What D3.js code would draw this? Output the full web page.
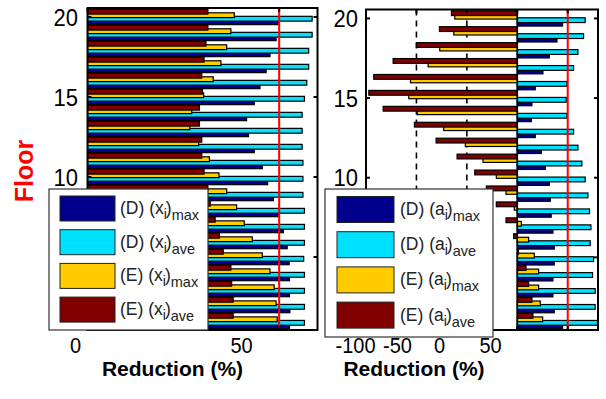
<!DOCTYPE html>
<html>
<head>
<meta charset="utf-8">
<script src="https://cdn.jsdelivr.net/npm/d3@7/dist/d3.min.js"></script>
<style>
  body { margin: 0; background: #fff; }
  svg { display: block; }
  text { font-family: "Liberation Sans", Arial, sans-serif; }
</style>
</head>
<body>
<svg id="chart" width="606" height="399"></svg>
<script>
// Floors 1..20 (bottom to top)
const floors = d3.range(1, 21);

// Displacement reduction (%) per floor
const dxMax = [52.7, 52.8, 52.7, 52.7, 52.6, 52.1, 51.1, 50.0, 48.5, 47.0, 45.6, 43.5, 42.0, 41.5, 43.5, 45.0, 46.6, 47.6, 49.2, 49.8];
const dxAve = [56.6, 56.6, 56.6, 56.6, 56.4, 56.6, 56.6, 56.6, 56.2, 56.2, 56.2, 56.0, 56.0, 56.0, 56.6, 57.2, 57.7, 57.7, 58.6, 58.6];
const exMax = [49.5, 49.2, 48.7, 47.6, 45.6, 43.0, 40.9, 38.9, 36.3, 34.3, 31.8, 29.0, 26.7, 27.2, 30.3, 32.8, 34.8, 36.3, 37.4, 38.3];
const exAve = [38.0, 38.0, 37.6, 37.4, 35.4, 34.4, 33.3, 32.0, 31.4, 30.4, 29.8, 29.8, 29.2, 29.2, 30.0, 29.8, 30.4, 30.9, 31.4, 31.4];

// Acceleration reduction (%) per floor
const daMax = [44.9, 36.6, 35.3, 35.3, 36.6, 36.6, 35.3, 33.6, 32.7, 31.7, 27.7, 23.8, 17.8, 13.9, 14.5, 17.8, 25.4, 31.7, 39.3, 44.9];
const daAve = [79.5, 77.2, 77.2, 74.6, 75.6, 72.3, 73.0, 71.6, 70.0, 67.3, 64.0, 60.1, 55.8, 49.2, 48.5, 49.2, 55.8, 60.1, 65.7, 67.3];
const eaMax = [25.1, 22.8, 21.1, 21.1, 16.8, 11.2, 4.0, -3.0, -11.2, -20.8, -34.0, -51.5, -73.0, -99.3, -107.6, -105.9, -88.4, -76.9, -63.0, -62.0];
const eaAve = [15.5, 14.5, 11.2, 8.6, 1.0, -3.6, -11.2, -20.8, -30.7, -42.2, -59.7, -80.5, -102.0, -133.0, -147.2, -142.3, -123.1, -100.0, -77.2, -65.3];

// Axis ticks
const floorTicks = [5, 10, 15, 20];
const leftXTicks = [0, 50];
const rightXTicks = [-100, -50, 0, 50];
const limitLine = 50;

const seriesColors = ["#00008c", "#00e1ff", "#ffcc00", "#800000"];
const seriesCase = ["D", "D", "E", "E"];
const seriesStat = ["max", "ave", "max", "ave"];

const svg = d3.select("#chart");

function drawPanel(cfg) {
  const x = d3.scaleLinear().domain(cfg.domain).range([cfg.x0, cfg.x1]);
  const y = d3.scaleLinear().domain([0.44, 20.56]).range([cfg.y1, cfg.y0]);
  const g = svg.append("g");

  const clipId = "clip-" + cfg.id;
  svg.append("defs").append("clipPath").attr("id", clipId)
    .append("rect").attr("x", cfg.x0).attr("y", cfg.y0)
    .attr("width", cfg.x1 - cfg.x0).attr("height", cfg.y1 - cfg.y0);

  const plot = g.append("g").attr("clip-path", `url(#${clipId})`);

  // dashed reference lines
  (cfg.dashed || []).forEach(v => {
    plot.append("line")
      .attr("x1", x(v)).attr("x2", x(v)).attr("y1", cfg.y0).attr("y2", cfg.y1)
      .attr("stroke", "#000").attr("stroke-width", 1.6).attr("stroke-dasharray", "6,5");
  });

  // grouped horizontal bars
  const thick = 0.3;
  const offsets = [-0.33, -0.11, 0.11, 0.33];
  cfg.series.forEach((vals, si) => {
    plot.append("g").selectAll("rect")
      .data(floors.map((f, i) => ({ f, v: vals[i] })))
      .join("rect")
      .attr("x", d => x(Math.min(0, d.v)))
      .attr("width", d => Math.abs(x(d.v) - x(0)))
      .attr("y", d => y(d.f + offsets[si] + thick / 2))
      .attr("height", d => y(d.f + offsets[si] - thick / 2) - y(d.f + offsets[si] + thick / 2))
      .attr("fill", seriesColors[si])
      .attr("stroke", "#000")
      .attr("stroke-width", 1.2);
  });

  if (cfg.zeroLine) {
    plot.append("line")
      .attr("x1", x(0)).attr("x2", x(0)).attr("y1", cfg.y0).attr("y2", cfg.y1)
      .attr("stroke", "#000").attr("stroke-width", 1.6);
  }

  // limit line
  plot.append("line")
    .attr("x1", x(limitLine)).attr("x2", x(limitLine)).attr("y1", cfg.y0).attr("y2", cfg.y1)
    .attr("stroke", "#ff0000").attr("stroke-width", 2);

  // frame
  g.append("rect")
    .attr("x", cfg.x0).attr("y", cfg.y0)
    .attr("width", cfg.x1 - cfg.x0).attr("height", cfg.y1 - cfg.y0)
    .attr("fill", "none").attr("stroke", "#000").attr("stroke-width", 2);

  // inner tick marks
  const tl = 4;
  floorTicks.forEach(f => {
    g.append("line").attr("x1", cfg.x0).attr("x2", cfg.x0 + tl).attr("y1", y(f)).attr("y2", y(f))
      .attr("stroke", "#000").attr("stroke-width", 2);
    g.append("line").attr("x1", cfg.x1).attr("x2", cfg.x1 - tl).attr("y1", y(f)).attr("y2", y(f))
      .attr("stroke", "#000").attr("stroke-width", 2);
  });
  cfg.xTicks.forEach(v => {
    g.append("line").attr("x1", x(v)).attr("x2", x(v)).attr("y1", cfg.y0).attr("y2", cfg.y0 + tl)
      .attr("stroke", "#000").attr("stroke-width", 2);
    g.append("line").attr("x1", x(v)).attr("x2", x(v)).attr("y1", cfg.y1).attr("y2", cfg.y1 - tl)
      .attr("stroke", "#000").attr("stroke-width", 2);
  });

  // floor labels
  const yAxis = d3.axisLeft(y).tickValues(floorTicks).tickSize(0).tickPadding(0);
  const ya = g.append("g").attr("transform", `translate(${cfg.yLabelX},0)`).call(yAxis);
  ya.select(".domain").remove();
  ya.selectAll("text").attr("font-size", 22).attr("fill", "#000")
    .attr("font-family", "'Liberation Sans', Arial, sans-serif")
    .attr("dy", "0.33em").attr("transform", "scale(1,1.12)");

  // reduction labels
  const xl = d3.scaleLinear().domain(cfg.labelDomain).range(cfg.labelRange);
  const xAxis = d3.axisBottom(xl).tickValues(cfg.xTicks).tickSize(0).tickPadding(0)
    .tickFormat(d3.format("d"));
  const xa = g.append("g").attr("transform", `translate(0,${cfg.xLabelY})`).call(xAxis);
  xa.select(".domain").remove();
  xa.selectAll("text").attr("font-size", 20).attr("fill", "#000")
    .attr("font-family", "'Liberation Sans', Arial, sans-serif").attr("dy", 0)
    .attr("transform", "scale(1,1.12)")
    .text(d => d < 0 ? "-" + Math.abs(d) : d);

  g.append("text")
    .attr("x", cfg.titleX).attr("y", 376)
    .attr("text-anchor", "middle").attr("font-size", 21).attr("font-weight", "bold")
    .text("Reduction (%)");

  return g;
}

function drawLegend(cfg) {
  const lg = svg.append("g");
  lg.append("rect")
    .attr("x", cfg.x).attr("y", cfg.y).attr("width", cfg.w).attr("height", cfg.h)
    .attr("fill", "#fff").attr("stroke", "#333").attr("stroke-width", 1.2);
  seriesColors.forEach((c, i) => {
    const ry = cfg.y + cfg.top + i * cfg.step;
    lg.append("rect")
      .attr("x", cfg.x + cfg.sx).attr("y", ry).attr("width", cfg.sw).attr("height", cfg.sh)
      .attr("fill", c).attr("stroke", "#222").attr("stroke-width", 1);
    const t = lg.append("text")
      .attr("x", cfg.x + cfg.tx).attr("y", ry + cfg.sh / 2 + 5.5)
      .attr("font-size", 17.5).attr("fill", "#222");
    t.append("tspan").text(`(${seriesCase[i]}) (${cfg.sym}`);
    t.append("tspan").attr("dy", 5).attr("font-size", 14).text("i");
    t.append("tspan").attr("dy", -5).attr("dx", -1).text(")");
    t.append("tspan").attr("dy", 6).attr("font-size", 14.5).text(seriesStat[i]);
  });
}

drawPanel({
  id: "disp", x0: 87.5, x1: 317.5, y0: 8, y1: 330, domain: [0, 60],
  series: [dxMax, dxAve, exMax, exAve],
  xTicks: leftXTicks, labelDomain: [0, 50], labelRange: [75, 241],
  yLabelX: 78, xLabelY: 352.5, titleX: 172.5
});

drawPanel({
  id: "acc", x0: 366, x1: 598, y0: 9.5, y1: 330, domain: [-150, 80],
  series: [daMax, daAve, eaMax, eaAve],
  dashed: [-100, -50], zeroLine: true,
  xTicks: rightXTicks, labelDomain: [-100, 0, 50], labelRange: [355, 439, 490],
  yLabelX: 358, xLabelY: 352.5, titleX: 414
});

// axis title for floors
svg.append("text")
  .attr("transform", "translate(33,171) rotate(-90)")
  .attr("text-anchor", "middle").attr("font-size", 25).attr("font-weight", "bold")
  .attr("fill", "#ff0000").text("Floor");

drawLegend({ x: 49, y: 189, w: 159, h: 141, top: 7, step: 33.7, sx: 11, sw: 55, sh: 25, tx: 71, sym: "x" });
drawLegend({ x: 325, y: 189, w: 168, h: 148, top: 7.5, step: 35.2, sx: 12, sw: 57, sh: 26, tx: 75, sym: "a" });
</script>
</body>
</html>
